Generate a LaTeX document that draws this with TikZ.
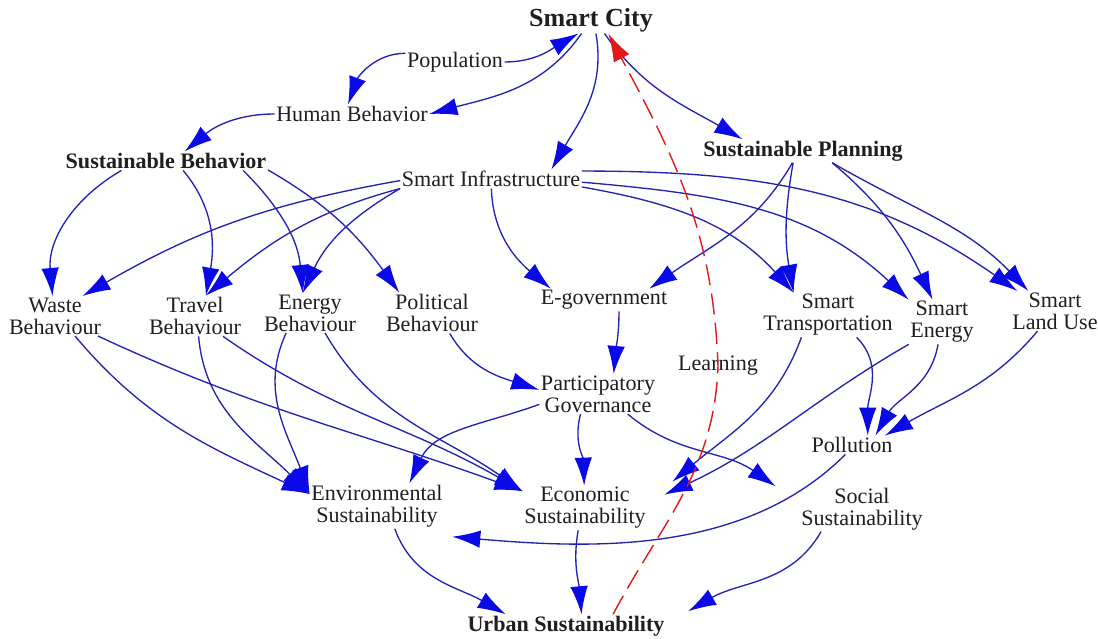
\documentclass[tikz,border=0pt]{standalone}
\usepackage{fontspec}
\setmainfont{Liberation Serif}
\usetikzlibrary{arrows.meta}
\definecolor{linkblue}{RGB}{35,35,175}
\definecolor{tipblue}{RGB}{10,10,230}
\definecolor{learnred}{RGB}{225,25,25}

\begin{document}
\begin{tikzpicture}[x=0.025cm, y=-0.025cm,
	var/.style={font=\fontsize{15.7}{15.6}\selectfont, align=center, inner sep=1pt, text=black!88},
	keyvar/.style={var, font=\fontsize{15.7}{15.6}\selectfont\bfseries},
	link/.style={draw=linkblue, line width=0.95pt, -{Latex[length=7mm,width=4.4mm,color=tipblue]}},
	learnlink/.style={draw=learnred, line width=1pt, dash pattern=on 15pt off 6pt, -{Latex[length=7mm,width=4.4mm,color=learnred]}}]
		\fill[white] (0,0) rectangle (1098,638);
		\useasboundingbox (0,0) rectangle (1098,638);
		\node[keyvar, font=\fontsize{18.5}{20}\selectfont\bfseries] (smartcity) at (591,20) {Smart City};
		\node[var] (population) at (455,62) {Population};
		\node[var] (humanbeh) at (352,114) {Human Behavior};
		\node[keyvar] (susbeh) at (166,161) {Sustainable Behavior};
		\node[var] (infra) at (491,179) {Smart Infrastructure};
		\node[keyvar] (susplan) at (803,151) {Sustainable Planning};
		\node[var] (wastebeh) at (55,316) {Waste\\Behaviour};
		\node[var] (travelbeh) at (195,316) {Travel\\Behaviour};
		\node[var] (energybeh) at (310,313) {Energy\\Behaviour};
		\node[var] (politbeh) at (432,313) {Political\\Behaviour};
		\node[var] (egov) at (604,300) {E-government};
		\node[var] (smarttrans) at (828,315) {Smart\\Transportation};
		\node[var] (smartenergy) at (942,322) {Smart\\Energy};
		\node[var] (landuse) at (1055,311) {Smart\\Land Use};
		\node[var] (partgov) at (598,394) {Participatory\\Governance};
		\node[var] (learning) at (718,366) {Learning};
		\node[var] (pollution) at (852,445) {Pollution};
		\node[var] (envsus) at (377,506) {Environmental\\Sustainability};
		\node[var] (ecosus) at (585,508) {Economic\\Sustainability};
		\node[var] (socsus) at (862,509) {Social\\Sustainability};
		\node[keyvar] (urbansus) at (566,626) {Urban Sustainability};
		% top of the diagram
		\draw[link] (population.east) to[out=0,in=-150] (smartcity.-133);
		\draw[link] (population.170) to[out=180,in=70] (humanbeh.113);
		\draw[link] (smartcity.-125) to[out=-125,in=15] (humanbeh.east);
		\draw[link] (humanbeh.west) to[out=180,in=40] (susbeh.27);
		\draw[link] (smartcity.-70) to[out=-80,in=60] (infra.9);
		\draw[link] (smartcity.-45) to[out=-55,in=150] (susplan.169);
		% behaviours
		\draw[link] (susbeh.-168) to[out=-150,in=95] (wastebeh.97);
		\draw[link] (susbeh.-29) to[out=-50,in=80] (travelbeh.62);
		\draw[link] (susbeh.-7) to[out=-45,in=95] (energybeh.110);
		\draw[link] (susbeh.-5) to[out=-30,in=126] (politbeh.148);
		\draw[link] (infra.181) to[out=190,in=30] (wastebeh.36);
		\draw[link] (infra.186) to[out=195,in=40] (travelbeh.62);
		\draw[link] (infra.south west) to[out=210,in=65] (energybeh.110);
		% infrastructure and planning
		\draw[link] (infra.-88) to[out=-88,in=140] (egov.168);
		\draw[link] (infra.-5) to[out=-10,in=132] (smarttrans.147);
		\draw[link] (infra.-2) to[out=-5,in=137] (smartenergy.north west);
		\draw[link] (infra.5) to[out=0,in=145] (landuse.152);
		\draw[link] (susplan.-132) to[out=-120,in=35] (egov.14);
		\draw[link] (susplan.-130) to[out=-100,in=100] (smarttrans.147);
		\draw[link] (susplan.-22) to[out=-40,in=115] (smartenergy.113);
		\draw[link] (susplan.-22) to[out=-30,in=134] (landuse.143);
		\draw[link] (egov.-37) to[out=-90,in=85] (partgov.52);
		\draw[link] (politbeh.-49) to[out=-60,in=162] (partgov.176);
		% sustainability
		\draw[link] (wastebeh.-45) to[out=-50,in=155] (envsus.170);
		\draw[link] (wastebeh.-25) to[out=-25,in=160] (ecosus.165);
		\draw[link] (travelbeh.-80) to[out=-85,in=135] (envsus.170);
		\draw[link] (travelbeh.-36) to[out=-35,in=150] (ecosus.165);
		\draw[link] (energybeh.-140) to[out=-115,in=110] (envsus.170);
		\draw[link] (energybeh.-53) to[out=-60,in=145] (ecosus.165);
		\draw[link] (partgov.-170) to[out=-160,in=65] (envsus.35);
		\draw[link] (partgov.-131) to[out=-105,in=92] (ecosus.92);
		\draw[link] (partgov.-34) to[out=-40,in=145] ([shift={(-24,0)}]socsus.north west);
		\draw[link] (smarttrans.-140) to[out=-110,in=40] ([shift={(25,-4)}]ecosus.north east);
		\draw[link] (smartenergy.south west) to[out=-150,in=25] ([shift={(17,9)}]ecosus.north east);
		\draw[link] (smarttrans.-38) to[out=-45,in=90] (pollution.31);
		\draw[link] (smartenergy.-100) to[out=-100,in=60] (pollution.22);
		\draw[link] (landuse.-131) to[out=-130,in=30] (pollution.16);
		\draw[link] (pollution.-125) to[out=-135,in=-5,looseness=0.9] ([shift={(8,8)}]envsus.south east);
		\draw[link] (envsus.-52) to[out=-70,in=150] (urbansus.169);
		\draw[link] (ecosus.-107) to[out=-100,in=95] (urbansus.37);
		\draw[link] (socsus.-151) to[out=-120,in=30] ([shift={(22,-3)}]urbansus.north east);
		% learning loop
		\draw[learnlink] (urbansus.14) to[out=62,in=-92] (learning.center) to[out=92,in=-62] (smartcity.-38);
\end{tikzpicture}
\end{document}
